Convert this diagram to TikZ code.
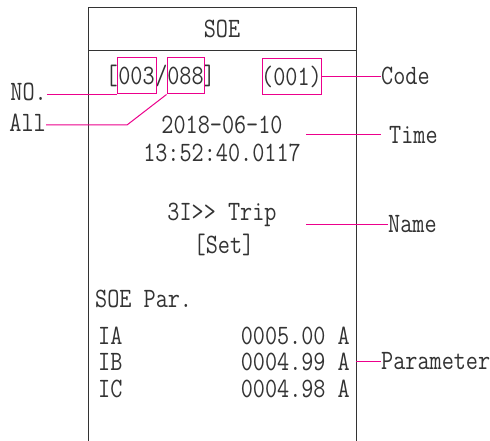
\documentclass[tikz,border=0pt]{standalone}
\usepackage{fontspec}
\setmainfont[FakeStretch=0.84]{Latin Modern Mono}
\begin{document}
\begin{tikzpicture}[x=1pt,y=-1pt,
  frame/.style={draw=black!80,line width=1pt},
  mag/.style={draw=magenta,line width=1pt},
  txt/.style={inner sep=0pt,text=black!80,font=\fontsize{28}{32}\selectfont}]
\useasboundingbox[fill=white] (0,0) rectangle (490,441);
% frame
\draw[frame] (88,441) -- (88,8) -- (356,8) -- (356,441);
\draw[frame] (88,51) -- (356,51);
\node[txt] (title) at (222,29) {SOE};
% number line
\node[txt,anchor=east] (lb) at (118,76) {[};
\node[txt] (n1) at (136.5,76) {003};
\node[txt] (sl) at (161.5,76) {/};
\node[txt] (n2) at (185.5,76) {088};
\node[txt,anchor=west] (rb) at (203,76) {]};
\node[txt] (code) at (291.5,77) {(001)};
\node[mag,minimum width=39pt,minimum height=36pt] (b1) at (136.5,76) {};
\node[mag,minimum width=37pt,minimum height=36pt] (b2) at (185.5,76) {};
\node[mag,minimum width=59pt,minimum height=36pt] (b3) at (291.5,77) {};
% labels
\node[txt,anchor=east] (no) at (47,92) {NO.};
\node[txt,anchor=east] (all) at (46,123) {All};
\node[txt,anchor=west] (codel) at (381,76) {Code};
\node[txt,anchor=west] (timel) at (389,135) {Time};
\node[txt,anchor=west] (namel) at (388,224) {Name};
\node[txt,anchor=west] (parl) at (381,361) {Parameter};
% body text
\node[txt] (date) at (222,125) {2018-06-10};
\node[txt] (clock) at (222,153) {13:52:40.0117};
\node[txt] (trip) at (222,215) {3I{>}{>} Trip};
\node[txt] (set) at (224,245) {[Set]};
\node[txt,anchor=west] (soepar) at (95,299) {SOE Par.};
\node[txt,anchor=west] (ia) at (98,336) {IA};
\node[txt,anchor=west] (ib) at (98,362) {IB};
\node[txt,anchor=west] (ic) at (98,389) {IC};
\node[txt,anchor=east] (va) at (350,336) {0005.00 A};
\node[txt,anchor=east] (vb) at (350,362) {0004.99 A};
\node[txt,anchor=east] (vc) at (350,389) {0004.98 A};
% connectors
\coordinate (tl) at (306,135);
\coordinate (te) at (381,135);
\coordinate (nl) at (306,224);
\coordinate (pl) at (356,361);
\draw[mag] (no.east |- b1.south west) -- (b1.south west);
\draw[mag] (all.east |- 0,125) -- (127,125) -- (b2.south west);
\draw[mag] (b3.east) -- (b3.east -| codel.west);
\draw[mag] (tl) -- (te);
\draw[mag] (nl) -- (nl -| namel.west);
\draw[mag] (pl) -- (pl -| parl.west);
\end{tikzpicture}
\end{document}
